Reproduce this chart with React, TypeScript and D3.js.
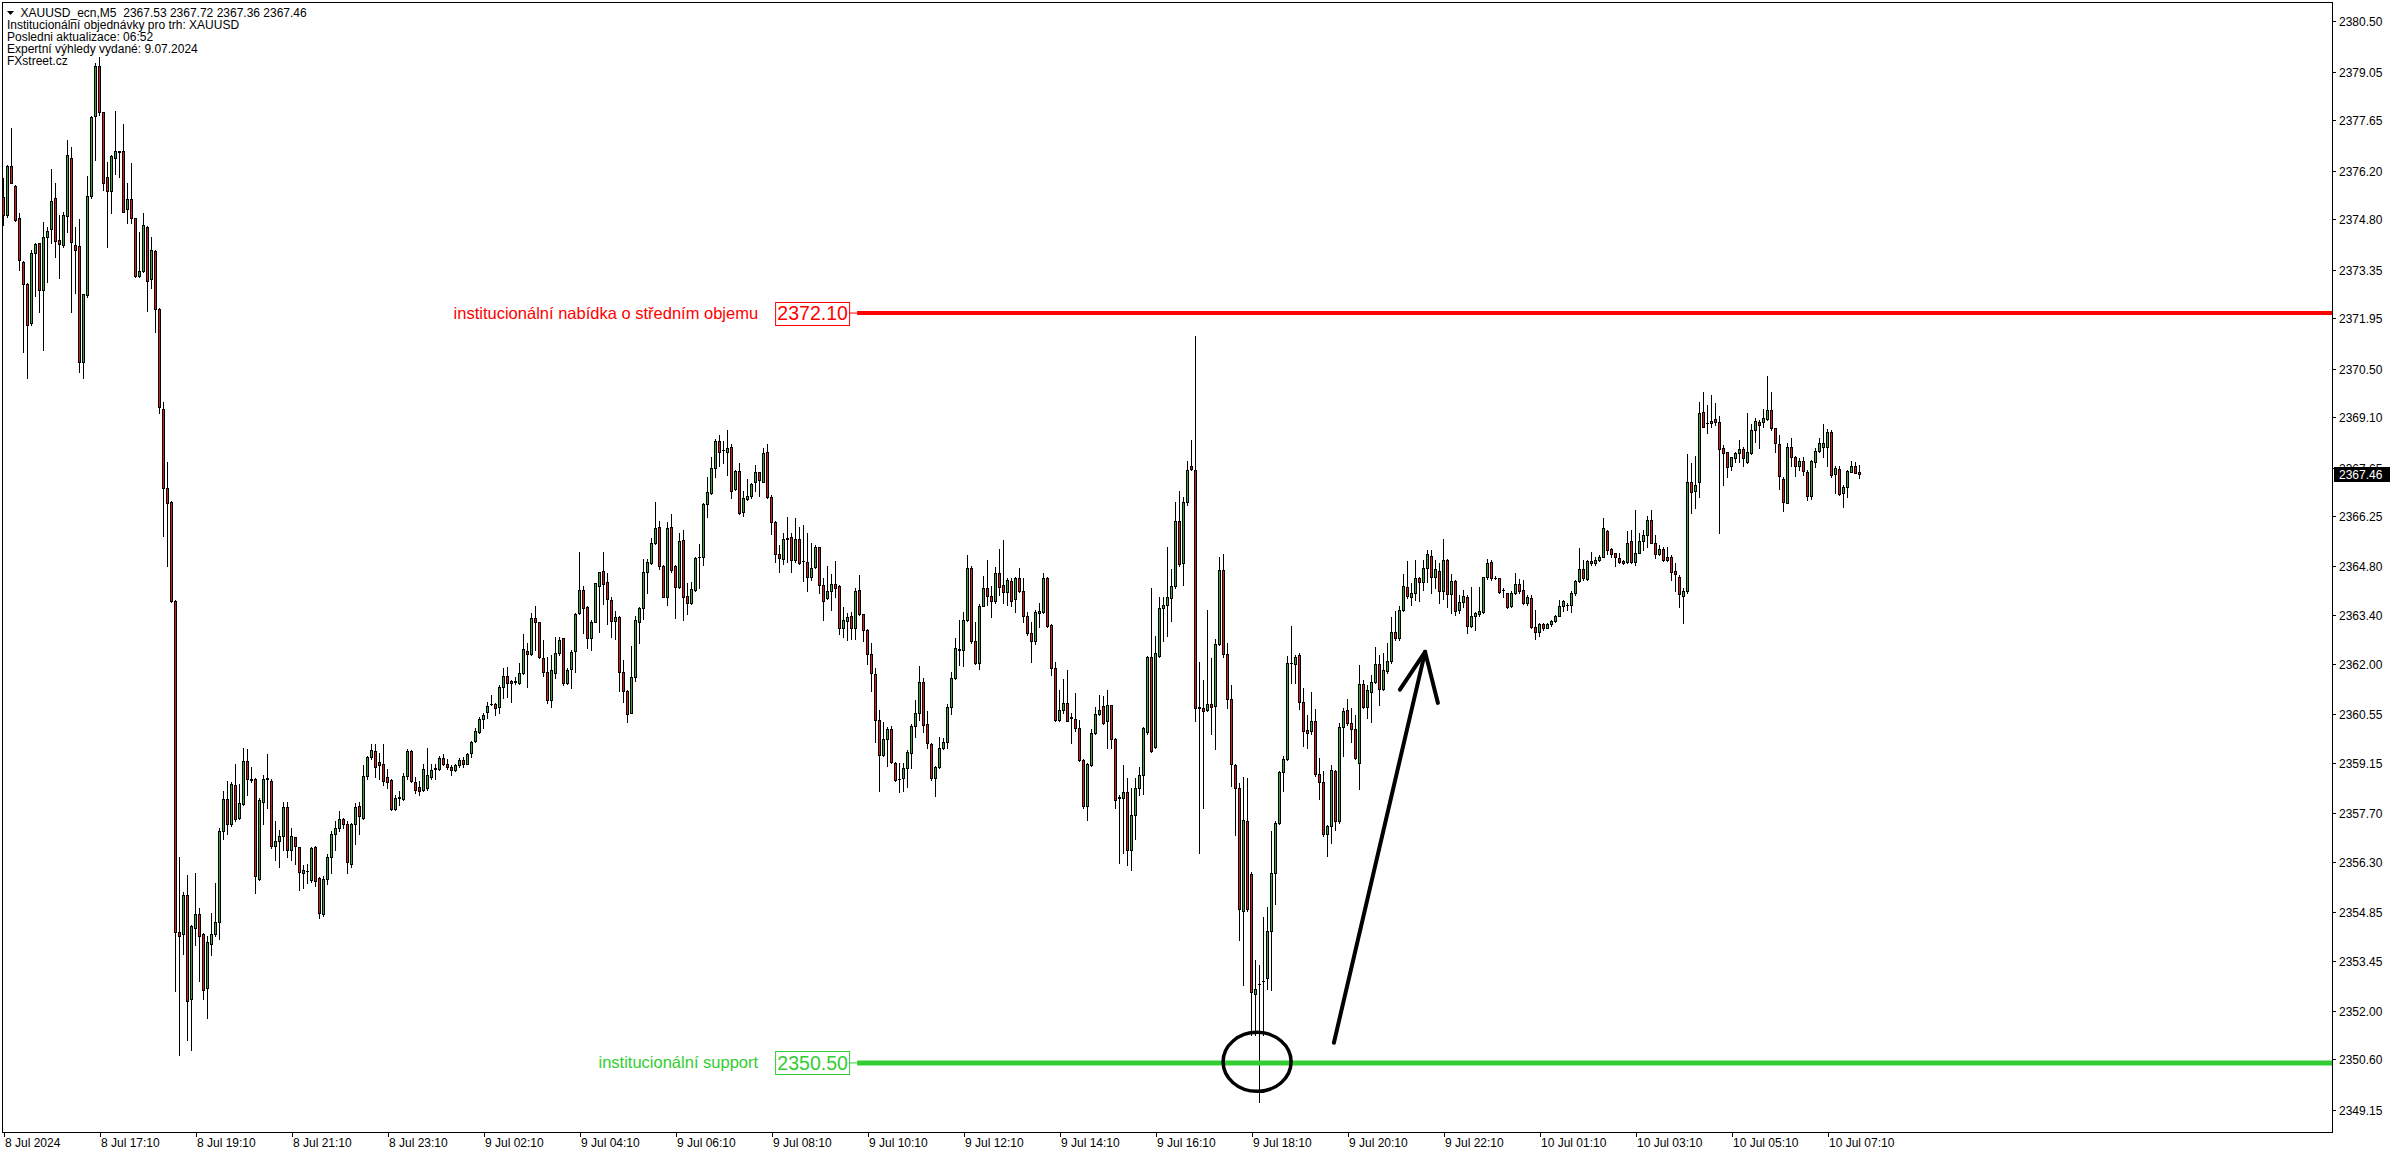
import React from 'react';
import * as d3 from 'd3';

type Bar = [number, number, number, number]; // open, high, low, close

// 8 Jul 15:10 - 18:25 (M5)
const barsJul8Afternoon: Bar[] = [
  [2375.45, 2375.98, 2374.64, 2374.92], [2374.92, 2376.36, 2374.86, 2376.34], [2376.34, 2377.42, 2375.84, 2375.86],
  [2375.76, 2375.80, 2374.76, 2374.78], [2374.83, 2374.97, 2373.34, 2373.63], [2373.56, 2373.60, 2370.99, 2372.93],
  [2372.93, 2372.96, 2370.22, 2371.77], [2371.80, 2373.93, 2371.77, 2373.82], [2373.82, 2374.11, 2372.60, 2374.09],
  [2374.11, 2374.13, 2372.14, 2372.76], [2372.76, 2374.71, 2371.05, 2374.28], [2374.28, 2374.59, 2373.00, 2374.46],
  [2374.51, 2376.26, 2374.13, 2375.33], [2375.40, 2375.86, 2373.71, 2374.18], [2374.20, 2374.92, 2373.12, 2374.08],
  [2374.05, 2375.00, 2374.01, 2374.92], [2374.91, 2377.08, 2374.43, 2376.64], [2376.58, 2376.89, 2372.14, 2374.14],
  [2374.05, 2374.57, 2372.67, 2373.93], [2374.03, 2374.80, 2370.39, 2370.70], [2370.68, 2372.66, 2370.22, 2372.64],
  [2372.62, 2376.06, 2372.57, 2375.46], [2375.46, 2377.78, 2375.42, 2377.74], [2377.78, 2379.31, 2376.51, 2379.22],
  [2379.23, 2379.48, 2377.80, 2377.88], [2377.88, 2377.90, 2375.64, 2375.84], [2376.02, 2376.44, 2374.01, 2375.62],
  [2375.62, 2376.65, 2374.97, 2376.61], [2376.58, 2377.92, 2376.10, 2376.76], [2376.75, 2376.78, 2376.03, 2376.76],
  [2376.76, 2377.56, 2375.00, 2375.02], [2375.11, 2375.84, 2374.68, 2375.38], [2375.38, 2376.41, 2374.68, 2374.83],
  [2374.83, 2374.85, 2373.15, 2373.18], [2373.18, 2374.44, 2373.15, 2373.30], [2373.30, 2374.97, 2373.28, 2374.63],
  [2374.58, 2374.60, 2372.17, 2373.02], [2373.07, 2374.30, 2372.81, 2373.92], [2373.89, 2373.91, 2371.56, 2372.21],
  [2372.22, 2372.24, 2369.21, 2369.40],
];

// 8 Jul 18:30 - 9 Jul 00:50
const barsJul8Evening: Bar[] = [
  [2369.35, 2369.55, 2365.69, 2367.05], [2367.05, 2367.82, 2364.81, 2366.63], [2366.65, 2366.68, 2363.77, 2363.81],
  [2363.81, 2363.83, 2352.57, 2354.27], [2354.27, 2356.43, 2350.73, 2354.17], [2354.21, 2355.43, 2353.65, 2355.34],
  [2355.34, 2355.92, 2351.16, 2352.29], [2352.33, 2354.46, 2350.88, 2354.44], [2354.40, 2355.96, 2353.89, 2354.79],
  [2354.79, 2354.96, 2352.85, 2354.17], [2354.21, 2354.23, 2352.35, 2352.61], [2352.67, 2354.17, 2351.78, 2353.99],
  [2353.93, 2354.83, 2353.61, 2354.21], [2354.21, 2355.68, 2354.17, 2354.55], [2354.55, 2357.28, 2354.08, 2357.19],
  [2357.19, 2358.32, 2356.96, 2358.09], [2358.09, 2358.63, 2357.09, 2357.37], [2357.37, 2358.60, 2357.33, 2358.54],
  [2358.50, 2359.12, 2357.47, 2357.52], [2357.56, 2358.54, 2357.52, 2357.99], [2357.97, 2359.58, 2357.94, 2359.20],
  [2359.20, 2359.54, 2358.22, 2358.69], [2358.69, 2359.03, 2358.60, 2358.66], [2358.69, 2358.72, 2355.40, 2355.87],
  [2355.81, 2358.13, 2355.76, 2358.07], [2358.03, 2358.79, 2357.37, 2358.69], [2358.69, 2359.39, 2357.84, 2358.71],
  [2358.63, 2358.69, 2356.68, 2356.75], [2356.75, 2357.47, 2356.34, 2356.90], [2356.90, 2357.22, 2356.15, 2357.03],
  [2357.03, 2358.03, 2356.62, 2357.88], [2357.88, 2358.03, 2356.43, 2356.62], [2356.62, 2357.28, 2356.34, 2357.03],
  [2357.00, 2357.02, 2356.24, 2356.75], [2356.71, 2356.73, 2355.49, 2356.00], [2355.96, 2356.21, 2355.55, 2356.06],
  [2356.04, 2356.24, 2355.68, 2356.02], [2355.77, 2356.71, 2355.72, 2356.68], [2356.71, 2356.75, 2355.59, 2355.74],
  [2355.83, 2355.85, 2354.68, 2354.83], [2354.79, 2355.87, 2354.74, 2355.81], [2355.81, 2356.53, 2355.64, 2356.43],
  [2356.43, 2357.19, 2355.96, 2357.09], [2357.09, 2357.47, 2356.62, 2357.28], [2357.28, 2357.75, 2357.19, 2357.52],
  [2357.52, 2357.56, 2357.28, 2357.37], [2357.37, 2357.47, 2355.96, 2356.28], [2356.24, 2357.41, 2356.15, 2357.37],
  [2357.37, 2357.98, 2356.81, 2357.88], [2357.90, 2358.03, 2357.09, 2357.62], [2357.56, 2359.07, 2357.52, 2358.77],
  [2358.77, 2359.35, 2358.69, 2359.31], [2359.31, 2359.69, 2359.26, 2359.50], [2359.48, 2359.69, 2358.75, 2359.03],
  [2359.16, 2359.44, 2358.69, 2359.07], [2359.12, 2359.69, 2358.50, 2358.63], [2358.73, 2358.97, 2358.41, 2358.60],
  [2358.65, 2358.67, 2357.79, 2357.81], [2357.81, 2358.22, 2357.79, 2358.13], [2358.13, 2358.32, 2357.94, 2358.15],
  [2358.09, 2358.84, 2358.07, 2358.77], [2358.77, 2359.54, 2358.69, 2359.48], [2359.48, 2359.50, 2358.60, 2358.63],
  [2358.60, 2358.75, 2358.28, 2358.37], [2358.45, 2358.63, 2358.22, 2358.32], [2358.35, 2359.12, 2358.32, 2358.97],
  [2358.41, 2359.58, 2358.35, 2358.79], [2358.75, 2359.10, 2358.69, 2358.94], [2358.97, 2359.10, 2358.69, 2358.99],
  [2358.97, 2359.35, 2358.94, 2359.29], [2359.29, 2359.41, 2359.07, 2359.10], [2359.10, 2359.26, 2358.97, 2359.03],
  [2359.03, 2359.07, 2358.79, 2358.94], [2358.94, 2359.10, 2358.92, 2359.07], [2359.07, 2359.29, 2359.03, 2359.22],
  [2359.22, 2359.31, 2359.01, 2359.12], [2359.12, 2359.44, 2359.10, 2359.41],
];

// 9 Jul night and morning
const barsJul9Morning: Bar[] = [
  [2359.42, 2359.76, 2359.32, 2359.74], [2359.76, 2360.14, 2359.74, 2360.06], [2360.04, 2360.45, 2360.00, 2360.41],
  [2360.40, 2360.57, 2360.14, 2360.52], [2360.60, 2360.91, 2360.43, 2360.79], [2360.83, 2361.10, 2360.81, 2360.85],
  [2360.84, 2360.86, 2360.52, 2360.72], [2360.76, 2361.39, 2360.59, 2361.32], [2361.34, 2361.87, 2361.00, 2361.65],
  [2361.65, 2361.90, 2361.03, 2361.44], [2361.50, 2361.52, 2360.91, 2361.44], [2361.46, 2361.63, 2361.42, 2361.51],
  [2361.45, 2362.01, 2361.42, 2361.72], [2361.72, 2362.85, 2361.70, 2362.41], [2362.37, 2362.59, 2361.34, 2362.27],
  [2362.27, 2363.47, 2362.25, 2363.31], [2363.31, 2363.66, 2362.40, 2363.19], [2363.19, 2363.21, 2362.16, 2362.18],
  [2362.16, 2362.68, 2361.65, 2361.75], [2361.75, 2362.20, 2360.86, 2360.94], [2360.94, 2362.25, 2360.74, 2361.82],
  [2361.74, 2362.78, 2361.58, 2362.30], [2362.30, 2362.76, 2362.25, 2362.68], [2362.73, 2362.75, 2361.39, 2361.44],
  [2361.44, 2361.87, 2361.42, 2361.82], [2361.85, 2362.40, 2361.31, 2362.33], [2362.37, 2363.45, 2361.77, 2363.42],
  [2363.45, 2365.21, 2363.43, 2364.11], [2364.11, 2364.24, 2362.88, 2363.61], [2363.64, 2363.66, 2362.46, 2362.75],
  [2362.75, 2363.26, 2362.40, 2363.21], [2363.21, 2364.33, 2363.19, 2364.32], [2364.25, 2364.65, 2362.90, 2364.63],
  [2364.67, 2365.21, 2363.72, 2364.29], [2364.34, 2364.60, 2363.13, 2363.85], [2363.83, 2363.92, 2362.78, 2363.24],
  [2363.24, 2363.53, 2362.70, 2363.34], [2363.34, 2363.36, 2361.20, 2361.75], [2361.75, 2362.11, 2360.91, 2361.20],
  [2361.21, 2361.23, 2360.33, 2360.54], [2360.59, 2362.51, 2360.57, 2361.63], [2361.63, 2363.36, 2361.51, 2363.26],
  [2363.21, 2363.64, 2362.61, 2363.61], [2363.61, 2365.01, 2363.28, 2364.63], [2364.63, 2365.01, 2364.05, 2364.92],
  [2364.89, 2365.61, 2364.87, 2365.47], [2365.47, 2366.65, 2365.45, 2365.90], [2365.93, 2366.11, 2364.73, 2364.80],
  [2364.82, 2364.84, 2363.91, 2363.93], [2363.93, 2366.09, 2363.69, 2365.90], [2365.93, 2366.31, 2364.63, 2364.70],
  [2364.81, 2364.84, 2363.33, 2364.22], [2364.20, 2365.77, 2364.17, 2365.53], [2365.56, 2365.85, 2363.26, 2363.93],
  [2363.95, 2364.32, 2363.43, 2363.74], [2363.74, 2364.36, 2363.71, 2364.14], [2364.12, 2365.08, 2364.09, 2365.05],
  [2365.07, 2365.45, 2364.19, 2365.08], [2365.08, 2366.62, 2364.84, 2366.60], [2366.59, 2367.39, 2366.22, 2366.94],
  [2366.93, 2367.96, 2366.89, 2367.63], [2367.63, 2368.47, 2367.39, 2368.42], [2368.42, 2368.59, 2367.70, 2368.11],
  [2368.15, 2368.42, 2367.77, 2368.16], [2368.11, 2368.73, 2367.44, 2368.20], [2368.23, 2368.33, 2366.78, 2366.98],
  [2367.03, 2367.57, 2367.00, 2367.55], [2367.55, 2367.77, 2366.31, 2366.33], [2366.38, 2366.98, 2366.25, 2366.76],
  [2366.74, 2367.31, 2366.72, 2366.83], [2366.84, 2367.20, 2366.78, 2367.17], [2367.24, 2367.72, 2366.98, 2367.51],
  [2367.51, 2367.53, 2366.83, 2367.29], [2367.24, 2368.20, 2367.22, 2368.07], [2368.09, 2368.33, 2366.77, 2366.79],
  [2366.79, 2366.86, 2365.74, 2366.09], [2366.09, 2366.11, 2364.94, 2365.15], [2365.15, 2365.42, 2364.65, 2365.04],
  [2365.01, 2365.76, 2364.87, 2365.58], [2365.60, 2366.22, 2364.94, 2365.61], [2365.64, 2365.76, 2364.65, 2364.99],
  [2364.99, 2366.19, 2364.94, 2365.58], [2365.58, 2365.93, 2364.87, 2364.91], [2364.97, 2366.00, 2364.39, 2364.96],
  [2364.92, 2365.76, 2364.10, 2364.49], [2364.51, 2365.49, 2364.41, 2364.75], [2364.78, 2365.42, 2364.75, 2365.35],
  [2365.35, 2365.37, 2364.03, 2364.27], [2364.27, 2364.46, 2363.26, 2363.82], [2363.90, 2364.82, 2363.86, 2364.09],
  [2364.08, 2364.58, 2363.55, 2364.30], [2364.30, 2364.96, 2363.93, 2364.17], [2364.24, 2364.26, 2362.86, 2363.02],
  [2363.02, 2363.62, 2362.76, 2363.26], [2363.23, 2363.47, 2362.68, 2363.34], [2363.37, 2363.50, 2362.71, 2363.02],
  [2363.02, 2364.17, 2362.71, 2364.09], [2364.12, 2364.56, 2363.40, 2363.42], [2363.42, 2363.44, 2362.64, 2362.97],
  [2362.97, 2362.99, 2361.99, 2362.27], [2362.27, 2362.59, 2361.20, 2361.72], [2361.70, 2361.87, 2359.74, 2360.38],
  [2360.38, 2360.67, 2358.34, 2359.37], [2359.37, 2360.33, 2359.34, 2359.82], [2359.82, 2360.19, 2359.04, 2360.11],
  [2360.11, 2360.21, 2359.13, 2359.16], [2359.13, 2359.18, 2358.63, 2358.65], [2358.68, 2359.13, 2358.29, 2358.67],
  [2358.70, 2359.13, 2358.32, 2358.99], [2358.99, 2359.52, 2358.46, 2359.45], [2359.42, 2360.26, 2358.99, 2360.21],
  [2360.21, 2360.94, 2359.88, 2360.59], [2360.59, 2361.93, 2360.38, 2361.48], [2361.48, 2361.60, 2360.02, 2360.24],
  [2360.25, 2360.64, 2359.56, 2359.71], [2359.69, 2359.71, 2358.65, 2358.70], [2358.70, 2359.04, 2358.20, 2359.01],
  [2359.01, 2359.90, 2358.99, 2359.56],
];

// 9 Jul afternoon and evening
const barsJul9Afternoon: Bar[] = [
  [2359.57, 2359.86, 2359.54, 2359.74], [2359.74, 2360.84, 2359.57, 2360.76], [2360.76, 2361.77, 2360.55, 2361.60],
  [2361.60, 2362.73, 2361.57, 2362.44], [2362.40, 2363.27, 2361.96, 2362.42], [2362.40, 2363.48, 2361.92, 2363.25],
  [2363.25, 2365.12, 2363.22, 2364.76], [2364.76, 2364.82, 2362.61, 2362.66], [2362.66, 2363.19, 2361.99, 2362.03],
  [2362.03, 2363.73, 2361.86, 2363.67], [2363.67, 2364.54, 2363.66, 2364.18], [2364.18, 2364.98, 2363.70, 2363.95],
  [2363.96, 2364.25, 2363.34, 2363.80], [2363.80, 2364.79, 2363.75, 2364.60], [2364.60, 2365.30, 2363.99, 2364.21],
  [2364.28, 2365.56, 2363.75, 2364.06], [2364.06, 2364.47, 2363.70, 2364.40], [2364.38, 2364.47, 2363.66, 2363.82],
  [2363.85, 2364.50, 2363.48, 2364.46], [2364.46, 2364.76, 2364.06, 2364.09], [2364.09, 2364.46, 2363.19, 2363.37],
  [2363.37, 2363.48, 2362.83, 2362.87], [2362.87, 2363.19, 2362.06, 2362.66], [2362.66, 2363.56, 2362.58, 2363.48],
  [2363.46, 2363.75, 2363.05, 2363.51], [2363.48, 2364.60, 2363.46, 2364.47], [2364.47, 2364.50, 2363.05, 2363.08],
  [2363.12, 2363.14, 2361.67, 2361.89], [2361.89, 2362.06, 2360.36, 2360.39], [2360.39, 2361.24, 2360.36, 2360.68],
  [2360.68, 2361.55, 2360.58, 2360.87], [2360.87, 2361.82, 2360.34, 2360.36], [2360.45, 2360.58, 2359.71, 2360.44],
  [2360.41, 2361.16, 2360.07, 2360.15], [2360.15, 2360.39, 2359.20, 2359.23], [2359.23, 2359.25, 2357.85, 2357.90],
  [2357.90, 2359.13, 2357.49, 2359.10], [2359.09, 2360.12, 2359.06, 2360.00], [2360.00, 2360.76, 2359.97, 2360.54],
  [2360.54, 2361.09, 2360.51, 2360.68], [2360.77, 2361.06, 2360.26, 2360.29], [2360.34, 2361.24, 2359.57, 2360.80],
  [2360.80, 2360.82, 2359.57, 2359.83], [2359.83, 2359.85, 2357.83, 2358.07], [2358.15, 2358.23, 2356.26, 2358.14],
  [2358.14, 2359.09, 2356.55, 2358.29], [2358.29, 2358.70, 2356.20, 2356.64], [2356.64, 2358.41, 2356.06, 2357.65],
  [2357.65, 2358.70, 2356.95, 2358.43], [2358.43, 2359.02, 2358.23, 2358.80], [2358.80, 2360.18, 2358.26, 2360.15],
  [2360.03, 2362.22, 2359.97, 2362.18], [2362.18, 2364.18, 2359.45, 2359.49], [2359.60, 2362.79, 2359.57, 2362.32],
  [2362.21, 2363.92, 2362.18, 2363.60], [2363.60, 2363.92, 2362.64, 2363.70], [2363.70, 2365.37, 2362.79, 2363.92],
  [2363.89, 2364.72, 2363.22, 2364.24], [2364.24, 2366.65, 2364.18, 2366.10], [2366.10, 2366.97, 2364.82, 2364.86],
  [2364.89, 2366.79, 2364.28, 2366.65], [2366.65, 2367.84, 2366.57, 2367.58], [2367.69, 2368.45, 2367.58, 2367.60],
  [2367.58, 2371.44, 2360.36, 2360.73], [2360.74, 2362.06, 2356.55, 2360.73], [2360.73, 2361.53, 2357.85, 2360.63],
  [2360.68, 2363.56, 2360.65, 2360.84], [2360.84, 2362.15, 2359.97, 2360.76], [2360.77, 2362.72, 2359.54, 2362.57],
  [2362.57, 2365.08, 2362.54, 2364.69], [2364.69, 2365.15, 2362.18, 2362.28], [2362.28, 2362.61, 2360.73, 2360.97],
  [2360.97, 2361.38, 2358.48, 2359.10], [2359.09, 2359.11, 2357.07, 2358.41], [2358.41, 2358.55, 2354.05, 2354.92],
  [2354.89, 2358.73, 2352.75, 2357.49], [2357.46, 2358.70, 2354.89, 2354.92], [2355.94, 2356.01, 2351.30, 2352.53],
  [2352.49, 2353.47, 2351.30, 2352.63], [2352.76, 2353.33, 2349.37, 2352.78], [2352.85, 2354.71, 2351.30, 2352.87],
  [2352.96, 2355.00, 2352.63, 2354.31], [2354.31, 2357.17, 2352.60, 2355.98], [2355.98, 2357.46, 2355.07, 2357.42],
  [2357.42, 2358.91, 2357.39, 2358.87], [2358.87, 2359.35, 2358.33, 2359.25], [2359.25, 2362.21, 2359.23, 2362.03],
  [2362.02, 2363.09, 2361.45, 2362.03], [2361.99, 2362.25, 2361.45, 2362.18], [2362.25, 2362.32, 2360.70, 2360.90],
  [2360.90, 2361.31, 2359.64, 2360.07], [2360.10, 2360.51, 2359.57, 2360.00], [2360.07, 2361.19, 2359.97, 2360.36],
  [2360.36, 2360.70, 2358.77, 2358.81], [2358.81, 2359.28, 2358.09, 2358.58], [2358.58, 2358.91, 2357.03, 2357.10],
  [2357.10, 2357.34, 2356.45, 2357.32], [2357.32, 2359.09, 2356.84, 2358.94], [2358.91, 2358.93, 2357.22, 2357.46],
  [2357.46, 2360.29, 2357.42, 2360.18], [2360.18, 2360.73, 2359.35, 2360.65], [2360.68, 2360.99, 2360.22, 2360.29],
  [2360.29, 2360.73, 2359.74, 2360.12], [2360.12, 2360.51, 2359.25, 2359.28], [2359.13, 2361.96, 2358.38, 2361.42],
  [2361.42, 2361.53, 2360.73, 2360.76], [2360.76, 2361.38, 2360.44, 2361.24], [2361.19, 2361.67, 2360.32, 2361.48],
  [2361.48, 2362.47, 2361.45, 2361.99], [2361.99, 2362.25, 2360.80, 2361.26], [2361.26, 2362.32, 2361.24, 2361.82],
  [2361.79, 2362.61, 2361.74, 2362.09], [2362.09, 2363.34, 2362.03, 2362.90], [2362.90, 2363.51, 2362.69, 2362.73],
  [2362.73, 2363.66, 2362.69, 2363.56], [2363.56, 2364.57, 2363.53, 2364.25], [2364.21, 2364.96, 2363.88, 2363.95],
];

// 9 Jul late evening - 10 Jul morning
const barsJul10: Bar[] = [
  [2363.93, 2364.32, 2363.69, 2364.05], [2364.05, 2364.99, 2363.84, 2364.46], [2364.46, 2364.51, 2363.82, 2364.34],
  [2364.34, 2364.99, 2364.12, 2364.75], [2364.75, 2365.27, 2364.36, 2365.16], [2365.10, 2365.27, 2364.03, 2364.51],
  [2364.51, 2364.99, 2364.17, 2364.72], [2364.67, 2364.89, 2363.76, 2364.09], [2364.09, 2365.58, 2363.86, 2364.99],
  [2364.99, 2365.01, 2363.64, 2364.00], [2364.00, 2364.57, 2363.45, 2364.38], [2364.38, 2364.40, 2363.40, 2363.52],
  [2363.55, 2363.98, 2363.45, 2363.79], [2363.79, 2364.12, 2363.64, 2363.95], [2363.93, 2363.98, 2362.87, 2363.08],
  [2363.08, 2364.22, 2363.07, 2363.37], [2363.36, 2363.50, 2362.97, 2363.45], [2363.43, 2364.22, 2363.36, 2363.52],
  [2363.50, 2364.51, 2363.47, 2364.49], [2364.49, 2365.01, 2364.43, 2364.89], [2364.92, 2364.99, 2364.41, 2364.46],
  [2364.48, 2364.53, 2364.43, 2364.47], [2364.46, 2364.47, 2364.03, 2364.06], [2364.13, 2364.17, 2363.93, 2364.12],
  [2364.03, 2364.05, 2363.60, 2363.64], [2363.67, 2364.08, 2363.64, 2364.03], [2364.03, 2364.60, 2364.01, 2364.30],
  [2364.30, 2364.43, 2364.03, 2364.08], [2364.12, 2364.41, 2363.72, 2363.74], [2363.74, 2363.98, 2363.69, 2363.91],
  [2363.88, 2363.98, 2363.02, 2363.05], [2363.05, 2363.56, 2362.70, 2362.92], [2362.92, 2363.16, 2362.80, 2363.14],
  [2363.14, 2363.16, 2362.97, 2363.04], [2363.04, 2363.16, 2363.02, 2363.14], [2363.14, 2363.26, 2363.08, 2363.23],
  [2363.23, 2363.40, 2363.21, 2363.37], [2363.37, 2363.84, 2363.36, 2363.66], [2363.66, 2363.84, 2363.53, 2363.81],
  [2363.69, 2363.74, 2363.55, 2363.70], [2363.70, 2364.08, 2363.50, 2364.03], [2364.03, 2364.41, 2363.98, 2364.39],
  [2364.39, 2365.32, 2364.36, 2364.73], [2364.73, 2364.99, 2364.41, 2364.46], [2364.43, 2364.99, 2364.41, 2364.96],
  [2364.96, 2365.23, 2364.84, 2364.89], [2364.89, 2365.08, 2364.84, 2364.99], [2364.99, 2365.13, 2364.97, 2365.08],
  [2365.08, 2366.19, 2365.06, 2365.90], [2365.81, 2365.85, 2365.16, 2365.28], [2365.30, 2365.32, 2365.08, 2365.15],
  [2365.18, 2365.20, 2364.80, 2365.06], [2365.04, 2365.18, 2364.89, 2364.92], [2364.96, 2364.99, 2364.87, 2364.89],
  [2364.92, 2365.82, 2364.89, 2365.49], [2365.54, 2365.85, 2364.89, 2364.92], [2364.92, 2366.43, 2364.84, 2365.20],
  [2365.20, 2365.76, 2365.18, 2365.54], [2365.54, 2365.85, 2365.28, 2365.71], [2365.71, 2366.24, 2365.37, 2366.14],
  [2366.14, 2366.43, 2365.47, 2365.49], [2365.47, 2365.71, 2365.04, 2365.15], [2365.15, 2365.42, 2365.13, 2365.30],
  [2365.30, 2365.37, 2364.97, 2364.99], [2365.06, 2365.37, 2364.96, 2364.99], [2365.08, 2365.13, 2364.41, 2364.63],
  [2364.68, 2364.89, 2364.08, 2364.58], [2364.51, 2364.56, 2363.64, 2364.00], [2363.96, 2364.17, 2363.18, 2364.08],
  [2364.08, 2368.04, 2364.03, 2367.22], [2367.22, 2367.77, 2366.33, 2366.95], [2366.98, 2367.98, 2366.48, 2367.15],
  [2367.22, 2369.55, 2366.81, 2369.21], [2369.24, 2369.84, 2368.81, 2368.83], [2368.92, 2369.45, 2368.65, 2368.93],
  [2368.92, 2369.74, 2368.83, 2368.99], [2369.04, 2369.50, 2368.88, 2368.95], [2368.95, 2369.14, 2365.76, 2368.18],
  [2368.20, 2368.30, 2367.15, 2368.06], [2368.09, 2368.11, 2367.39, 2367.66], [2367.68, 2367.96, 2367.58, 2367.94],
  [2367.93, 2368.11, 2367.82, 2368.06], [2368.06, 2368.44, 2367.82, 2368.18], [2368.18, 2368.25, 2367.68, 2367.93],
  [2367.82, 2369.21, 2367.77, 2368.09], [2368.06, 2368.90, 2368.04, 2368.73], [2368.73, 2369.07, 2368.40, 2368.99],
  [2368.95, 2369.02, 2368.20, 2368.87], [2368.95, 2369.34, 2368.83, 2369.07], [2369.04, 2370.29, 2369.02, 2369.31],
  [2369.31, 2369.84, 2368.73, 2368.78], [2368.78, 2368.80, 2368.11, 2368.35], [2368.33, 2368.59, 2367.02, 2367.42],
  [2367.32, 2367.39, 2366.40, 2366.65], [2366.64, 2368.35, 2366.62, 2368.23], [2368.23, 2368.49, 2367.68, 2367.96],
  [2367.96, 2367.98, 2367.42, 2367.68], [2367.68, 2367.92, 2367.58, 2367.85], [2367.84, 2367.96, 2367.44, 2367.55],
  [2367.51, 2367.58, 2366.72, 2366.84], [2366.84, 2367.87, 2366.74, 2367.84], [2367.82, 2368.20, 2367.66, 2368.14],
  [2368.14, 2368.49, 2368.11, 2368.35], [2368.25, 2368.90, 2367.96, 2368.35], [2368.25, 2368.76, 2367.68, 2368.67],
  [2368.67, 2368.73, 2367.39, 2367.44], [2367.46, 2367.70, 2366.91, 2367.65], [2367.60, 2367.68, 2366.86, 2366.88],
  [2366.91, 2367.15, 2366.52, 2367.10], [2367.08, 2367.58, 2366.81, 2367.55], [2367.53, 2367.84, 2367.51, 2367.70],
  [2367.70, 2367.82, 2367.48, 2367.50], [2367.53, 2367.72, 2367.36, 2367.46],
];

const timeLabels = [
  '8 Jul 2024', '8 Jul 17:10', '8 Jul 19:10', '8 Jul 21:10', '8 Jul 23:10', '9 Jul 02:10', '9 Jul 04:10',
  '9 Jul 06:10', '9 Jul 08:10', '9 Jul 10:10', '9 Jul 12:10', '9 Jul 14:10', '9 Jul 16:10', '9 Jul 18:10',
  '9 Jul 20:10', '9 Jul 22:10', '10 Jul 01:10', '10 Jul 03:10', '10 Jul 05:10', '10 Jul 07:10',
];
const barsPerTimeLabel = 24;

const priceTickLabels = [
  '2380.50', '2379.05', '2377.65', '2376.20', '2374.80', '2373.35', '2371.95', '2370.50', '2369.10', '2367.65',
  '2366.25', '2364.80', '2363.40', '2362.00', '2360.55', '2359.15', '2357.70', '2356.30', '2354.85', '2353.45',
  '2352.00', '2350.60', '2349.15',
];

const headerTitle = 'XAUUSD_ecn,M5  2367.53 2367.72 2367.36 2367.46';
const headerLines = [
  'Institucionální objednávky pro trh: XAUUSD',
  'Posledni aktualizace: 06:52',
  'Expertní výhledy vydané: 9.07.2024',
  'FXstreet.cz',
];

const lastPrice = 2367.46;
const resistanceLevel = 2372.10;
const resistanceText = 'institucionální nabídka o středním objemu';
const supportLevel = 2350.50;
const supportText = 'institucionální support';
const levelStartBar = 213.4;
// hand drawn marks (bar index, price)
const circleAt: [number, number] = [313.4, 2350.53];
const arrowFrom: [number, number] = [332.6, 2351.08];
const arrowTip: [number, number] = [355.4, 2362.34];
const arrowBarbs: [number, number][] = [[349.1, 2361.25], [358.6, 2360.87]];

const FONT = "'Liberation Sans', Arial, sans-serif";
const GREEN_BODY = '#35a635';
const RED_BODY = '#d41e1e';
const RED_LEVEL = '#ff0000';
const GREEN_LEVEL = '#32cd32';

export default function App() {
  const W = 2396;
  const H = 1154;
  const left = 2, top = 2, right = 2332, bottom = 1132;

  const bars: Bar[] = [
    ...barsJul8Afternoon, ...barsJul8Evening, ...barsJul9Morning, ...barsJul9Afternoon, ...barsJul10,
  ];

  const x = d3.scaleLinear().domain([0, 1]).range([3.5, 7.5]);
  const y = d3.scaleLinear().domain([2348.51, 2381.06]).range([bottom, top]);

  const candles = bars.map(([o, h, l, c], i) => {
    const cx = x(i);
    const yTop = Math.round(y(Math.max(o, c)));
    const yBot = Math.round(y(Math.min(o, c)));
    const bull = c >= o;
    const bodyH = yBot - yTop;
    return (
      <g key={i}>
        <line x1={cx} x2={cx} y1={Math.round(y(h))} y2={Math.round(y(l)) + 1} stroke="#000" strokeWidth={1} />
        {bodyH >= 1 ? (
          <rect x={cx - 1} y={yTop + 0.5} width={2} height={bodyH} fill={bull ? GREEN_BODY : RED_BODY} stroke="#000" strokeWidth={1} />
        ) : (
          <line x1={cx - 1.5} x2={cx + 1.5} y1={yTop + 0.5} y2={yTop + 0.5} stroke="#000" strokeWidth={1} />
        )}
      </g>
    );
  });

  const lineStartX = x(levelStartBar);
  const levelMarks = [
    { price: resistanceLevel, text: resistanceText, color: RED_LEVEL, width: 4 },
    { price: supportLevel, text: supportText, color: GREEN_LEVEL, width: 5 },
  ].map((lv, k) => {
    const ly = y(lv.price);
    const boxRight = lineStartX - 8;
    const boxLeft = boxRight - 74;
    return (
      <g key={k}>
        <line x1={lineStartX} x2={right} y1={ly} y2={ly} stroke={lv.color} strokeWidth={lv.width} />
        <line x1={boxRight} x2={lineStartX} y1={ly} y2={ly} stroke={lv.color} strokeWidth={1} />
        <rect x={boxLeft + 0.5} y={Math.round(ly - 11.5) + 0.5} width={74} height={23} fill="#fff" stroke={lv.color} strokeWidth={1} />
        <text x={(boxLeft + boxRight) / 2 + 0.5} y={ly + 7} textAnchor="middle" fontSize={19.5} fill={lv.color} fontFamily={FONT}>
          {lv.price.toFixed(2)}
        </text>
        <text x={boxLeft - 17} y={ly + 5.5} textAnchor="end" fontSize={16.5} fill={lv.color} fontFamily={FONT}>
          {lv.text}
        </text>
      </g>
    );
  });

  const lastY = y(lastPrice);

  return (
    <svg width={W} height={H} style={{ position: 'absolute', left: 0, top: 0, display: 'block', background: '#fff' }}>
      <rect x={0} y={0} width={W} height={H} fill="#fff" />
      {/* frame */}
      <rect x={left + 0.5} y={top + 0.5} width={right - left} height={bottom - top} fill="none" stroke="#000" strokeWidth={1} />

      <g>{candles}</g>

      {levelMarks}

      {/* hand drawn circle and arrow */}
      <ellipse cx={x(circleAt[0])} cy={y(circleAt[1])} rx={34} ry={29.5} fill="none" stroke="#000" strokeWidth={3.5} />
      <g stroke="#000" strokeWidth={4} strokeLinecap="round" fill="none">
        <line x1={x(arrowFrom[0])} y1={y(arrowFrom[1])} x2={x(arrowTip[0])} y2={y(arrowTip[1])} />
        {arrowBarbs.map((b, i) => (
          <line key={i} x1={x(arrowTip[0])} y1={y(arrowTip[1])} x2={x(b[0])} y2={y(b[1])} />
        ))}
      </g>

      {/* price axis */}
      <g fontFamily={FONT} fontSize={12} fill="#000">
        {priceTickLabels.map((t) => {
          const ty = Math.round(y(parseFloat(t))) + 0.5;
          return (
            <g key={t}>
              <line x1={right} x2={right + 4} y1={ty} y2={ty} stroke="#000" strokeWidth={1} />
              <text x={right + 7} y={ty + 4.5}>{t}</text>
            </g>
          );
        })}
      </g>
      <rect x={right + 2} y={Math.round(lastY - 7.5)} width={56} height={15} fill="#000" />
      <text x={right + 7} y={Math.round(lastY) + 4.5} fontFamily={FONT} fontSize={12} fill="#fff">
        {lastPrice.toFixed(2)}
      </text>

      {/* time axis */}
      <g fontFamily={FONT} fontSize={12} fill="#000">
        {timeLabels.map((t, k) => {
          const tx = Math.round(x(k * barsPerTimeLabel)) + 0.5;
          return (
            <g key={t}>
              <line x1={tx} x2={tx} y1={bottom} y2={bottom + 5} stroke="#000" strokeWidth={1} />
              <text x={tx + 0.5} y={bottom + 15}>{t}</text>
            </g>
          );
        })}
      </g>

      {/* header */}
      <g fontFamily={FONT} fontSize={12} fill="#000">
        <polygon points="7,11 14,11 10.5,15" fill="#000" />
        <text x={20.5} y={16.5} style={{ whiteSpace: 'pre' }}>{headerTitle}</text>
        {headerLines.map((l, i) => (
          <text key={i} x={7} y={28.7 + i * 12.2}>{l}</text>
        ))}
      </g>
    </svg>
  );
}
